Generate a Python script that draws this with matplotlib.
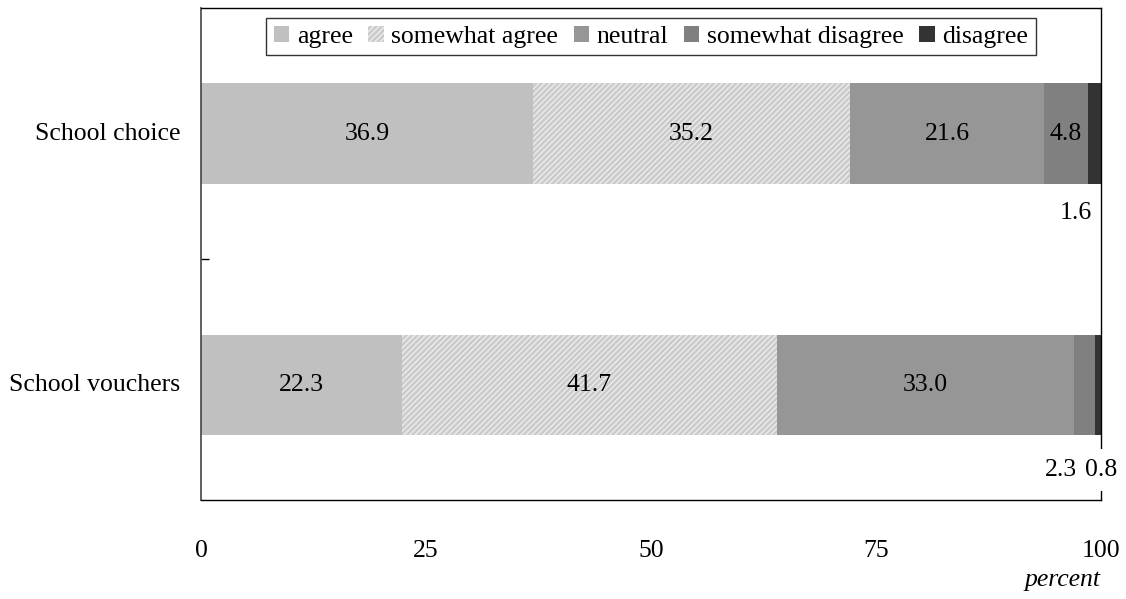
import matplotlib
matplotlib.use("Agg")
import matplotlib.pyplot as plt
import numpy as np

plt.rcParams['font.family'] = ['Liberation Serif', 'DejaVu Serif']
plt.rcParams['hatch.linewidth'] = 1.0

categories = ["School choice", "School vouchers"]
series = ["agree", "somewhat agree", "neutral", "somewhat disagree", "disagree"]
agree = [36.9, 22.3]
somewhat_agree = [35.2, 41.7]
neutral = [21.6, 33.0]
somewhat_disagree = [4.8, 2.3]
disagree = [1.6, 0.8]
x_ticks = [0, 25, 50, 75, 100]

values = [agree, somewhat_agree, neutral, somewhat_disagree, disagree]
colors = ["#c0c0c0", "#cbcbcb", "#969696", "#808080", "#333333"]
hatches = [None, "//////", None, None, None]
edgecolors = ["none", "#ececec", "none", "none", "none"]

FS = 18.5

fig = plt.figure(figsize=(11.26, 5.99), dpi=100)
ax = fig.add_axes([201 / 1126, 1 - 500 / 599, 900 / 1126, 492 / 599])

y = np.arange(len(categories))
height = 0.4
left = np.zeros(len(categories))
for name, vals, c, h, ec in zip(series, values, colors, hatches, edgecolors):
    vals = np.array(vals)
    ax.barh(y, vals, left=left, height=height, color=c, hatch=h,
            edgecolor=ec, linewidth=0, label=name, clip_on=True)
    for i, v in enumerate(vals):
        cx = left[i] + v / 2
        if v >= 4:
            ax.text(cx, y[i], f"{v:.1f}", ha="center", va="center", fontsize=FS)
    left += vals

# small segments labelled below the bars
ax.text(97.2, 0 + 0.315, f"{disagree[0]:.1f}", ha="center", va="center",
        fontsize=FS, clip_on=False)
ax.text(95.5, 1 + 0.338, f"{somewhat_disagree[1]:.1f}", ha="center", va="center",
        fontsize=FS, clip_on=False)
ax.text(100.0, 1 + 0.338, f"{disagree[1]:.1f}", ha="center", va="center",
        fontsize=FS, clip_on=False, zorder=5,
        bbox=dict(facecolor="white", edgecolor="none", pad=7))

ax.set_xlim(0, 100)
ax.set_ylim(1.457, -0.5)
ax.set_yticks([0.5])
ax.set_yticklabels([])
ax.tick_params(axis="y", direction="in", length=6, width=1)
for i, cat in enumerate(categories):
    ax.text(-2.3, y[i], cat, ha="right", va="center", fontsize=FS)

ax.set_xticks(x_ticks)
ax.set_xticklabels([str(t) for t in x_ticks], fontsize=FS)
ax.tick_params(axis="x", length=0, pad=29)

for s in ["top", "right", "bottom"]:
    ax.spines[s].set_linewidth(1)
ax.spines["left"].set_linewidth(1.2)
ax.spines["left"].set_color("#444444")

ax.text(100, -0.163, "percent", transform=ax.get_xaxis_transform(),
        ha="right", va="center", fontsize=FS, style="italic")

leg = ax.legend(loc="upper center", ncol=5, fontsize=FS, frameon=True,
                fancybox=False, edgecolor="black", handlelength=0.6,
                handleheight=0.6, handletextpad=0.3, columnspacing=0.6,
                borderpad=0.3, borderaxespad=0, bbox_to_anchor=(0.5, 0.98))
leg.get_frame().set_linewidth(1)

fig.savefig("out.png", dpi=100)
